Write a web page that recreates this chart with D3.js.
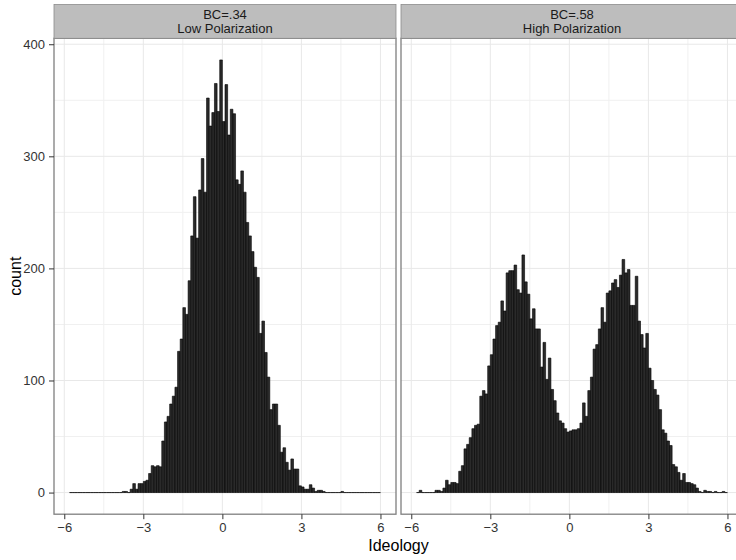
<!DOCTYPE html>
<html>
<head>
<meta charset="utf-8">
<script src="https://d3js.org/d3.v7.min.js"></script>
<style>
  body { margin: 0; background: #fff; }
  svg { display: block; font-family: "Liberation Sans", Arial, Helvetica, sans-serif; }
</style>
</head>
<body>
<div id="chart"></div>
<script>
// histogram bins: left edge of the first bin and bin width (ideology units)
var binStart = -5.8;
var binWidth = 0.1;

// counts per bin, first bin starts at -5.8 (rows of 10 bins)
var lowCounts = [
  0, 0, 0, 0, 0, 0, 0, 0, 0, 0,
  0, 0, 0, 0, 0, 0, 0, 0, 0, 0,
  1, 1, 0, 3, 8, 3, 8, 8, 10, 11,
  17, 24, 23, 24, 23, 46, 63, 68, 79, 86,
  94, 126, 137, 165, 159, 189, 229, 264, 227, 270,
  298, 268, 352, 327, 339, 365, 340, 386, 331, 364,
  319, 342, 338, 279, 275, 287, 268, 241, 229, 215,
  201, 192, 142, 153, 125, 103, 74, 79, 79, 60,
  36, 40, 27, 20, 30, 21, 21, 6, 5, 3,
  3, 7, 4, 1, 2, 2, 1, 0, 0, 0,
  0, 0, 0, 1, 0, 0, 0, 0, 0, 0,
  0, 0, 0, 0, 0, 0, 0, 0
];

var highCounts = [
  0, 2, 0, 0, 0, 0, 0, 2, 2, 1,
  4, 11, 7, 9, 9, 8, 19, 24, 39, 43,
  49, 57, 60, 61, 86, 91, 88, 113, 123, 137,
  149, 152, 171, 162, 196, 198, 198, 203, 181, 178,
  212, 188, 177, 155, 164, 146, 146, 112, 134, 101,
  120, 92, 82, 71, 64, 62, 57, 54, 55, 56,
  56, 57, 62, 80, 68, 91, 103, 128, 132, 146,
  165, 152, 178, 180, 187, 190, 183, 194, 208, 196,
  199, 167, 167, 193, 153, 141, 129, 142, 111, 100,
  92, 87, 74, 56, 53, 46, 42, 25, 23, 18,
  11, 17, 9, 9, 8, 7, 4, 1, 0, 2,
  1, 1, 0, 1, 0, 0, 1, 0
];

var facetTitles = [["BC=.34", "Low Polarization"], ["BC=.58", "High Polarization"]];
var xTicks = [-6, -3, 0, 3, 6];
var xMinor = [-4.5, -1.5, 1.5, 4.5];
var yTicks = [0, 100, 200, 300, 400];
var yMinor = [50, 150, 250, 350];

var width = 736, height = 560;
var panelTop = 38.3, panelBottom = 514.2;
var panelX = [[54, 396], [401, 743]];
var stripTop = 4.5;

var svg = d3.select("#chart").append("svg")
  .attr("width", width)
  .attr("height", height);

svg.append("rect").attr("width", width).attr("height", height).attr("fill", "#fff");

// shared scales (ggplot style 5% expansion)
var binEnd = binStart + binWidth * lowCounts.length;
var xPad = (binEnd - binStart) * 0.05;
var yMax = d3.max(lowCounts.concat(highCounts));

var yScale = d3.scaleLinear()
  .domain([-0.05 * yMax, 1.05 * yMax])
  .range([panelBottom, panelTop]);

var allCounts = [lowCounts, highCounts];

allCounts.forEach(function (counts, p) {
  var x0 = panelX[p][0], x1 = panelX[p][1];
  var xScale = d3.scaleLinear()
    .domain([binStart - xPad, binEnd + xPad])
    .range([x0, x1]);

  var panel = svg.append("g");

  panel.append("rect")
    .attr("x", x0).attr("y", panelTop)
    .attr("width", x1 - x0).attr("height", panelBottom - panelTop)
    .attr("fill", "#fff");

  // grid
  panel.selectAll("line.vminor").data(xMinor).enter().append("line")
    .attr("x1", function (d) { return xScale(d); })
    .attr("x2", function (d) { return xScale(d); })
    .attr("y1", panelTop).attr("y2", panelBottom)
    .attr("stroke", "#f0f0f0").attr("stroke-width", 1);
  panel.selectAll("line.hminor").data(yMinor).enter().append("line")
    .attr("x1", x0).attr("x2", x1)
    .attr("y1", function (d) { return yScale(d); })
    .attr("y2", function (d) { return yScale(d); })
    .attr("stroke", "#f0f0f0").attr("stroke-width", 1);
  panel.selectAll("line.vmajor").data(xTicks).enter().append("line")
    .attr("x1", function (d) { return xScale(d); })
    .attr("x2", function (d) { return xScale(d); })
    .attr("y1", panelTop).attr("y2", panelBottom)
    .attr("stroke", "#e8e8e8").attr("stroke-width", 1);
  panel.selectAll("line.hmajor").data(yTicks).enter().append("line")
    .attr("x1", x0).attr("x2", x1)
    .attr("y1", function (d) { return yScale(d); })
    .attr("y2", function (d) { return yScale(d); })
    .attr("stroke", "#e8e8e8").attr("stroke-width", 1);

  // bars (paths so that empty bins still show as a flat line)
  panel.selectAll("path.bar").data(counts).enter().append("path")
    .attr("class", "bar")
    .attr("d", function (d, i) {
      var a = xScale(binStart + i * binWidth);
      var b = xScale(binStart + (i + 1) * binWidth);
      var top = yScale(d), base = yScale(0);
      return "M" + a + "," + base + "H" + b + "V" + top + "H" + a + "Z";
    })
    .attr("fill", "#2a2a2a")
    .attr("stroke", "#000")
    .attr("stroke-width", 0.6);

  // border
  panel.append("rect")
    .attr("x", x0).attr("y", panelTop)
    .attr("width", x1 - x0).attr("height", panelBottom - panelTop)
    .attr("fill", "none")
    .attr("stroke", "#7f7f7f")
    .attr("stroke-width", 1.3);

  // strip
  panel.append("rect")
    .attr("x", x0).attr("y", stripTop)
    .attr("width", x1 - x0).attr("height", panelTop - stripTop)
    .attr("fill", "#bdbdbd")
    .attr("stroke", "#8c8c8c")
    .attr("stroke-width", 0.8);

  var stripCenter = (x0 + Math.min(x1, 743)) / 2;
  panel.selectAll("text.strip").data(facetTitles[p]).enter().append("text")
    .attr("x", stripCenter)
    .attr("y", function (d, i) { return 18.5 + i * 14; })
    .attr("text-anchor", "middle")
    .attr("font-size", "13px")
    .attr("fill", "#1a1a1a")
    .text(function (d) { return d; });

  // x axis
  var xAxis = d3.axisBottom(xScale)
    .tickValues(xTicks)
    .tickSize(5)
    .tickPadding(4)
    .tickFormat(function (d) { return d < 0 ? "\u2212" + Math.abs(d) : d; });
  var gx = panel.append("g")
    .attr("transform", "translate(0," + panelBottom + ")")
    .call(xAxis);
  gx.select(".domain").remove();
  gx.selectAll("line").attr("stroke", "#333").attr("stroke-width", 1);
  gx.selectAll("text").attr("font-size", "13px").attr("fill", "#333")
    .attr("font-family", "'Liberation Sans', Arial, sans-serif");
});

// y axis on the left panel only
var yAxis = d3.axisLeft(yScale).tickValues(yTicks).tickSize(5).tickPadding(4);
var gy = svg.append("g")
  .attr("transform", "translate(" + panelX[0][0] + ",0)")
  .call(yAxis);
gy.select(".domain").remove();
gy.selectAll("line").attr("stroke", "#333").attr("stroke-width", 1);
gy.selectAll("text").attr("font-size", "13px").attr("fill", "#333")
  .attr("font-family", "'Liberation Sans', Arial, sans-serif");

// axis titles
svg.append("text")
  .attr("x", (panelX[0][0] + panelX[1][1]) / 2)
  .attr("y", 551)
  .attr("text-anchor", "middle")
  .attr("font-size", "16px")
  .attr("fill", "#000")
  .text("Ideology");

svg.append("text")
  .attr("transform", "translate(20.5," + (panelTop + panelBottom) / 2 + ") rotate(-90)")
  .attr("text-anchor", "middle")
  .attr("font-size", "16px")
  .attr("fill", "#000")
  .text("count");
</script>
</body>
</html>
